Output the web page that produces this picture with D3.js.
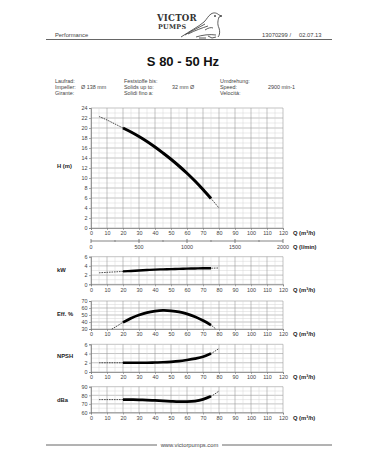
<!DOCTYPE html>
<html><head><meta charset="utf-8">
<script src="https://cdn.jsdelivr.net/npm/d3@7"></script>
<style>
html,body{margin:0;padding:0;background:#fff;}
svg{display:block;font-family:"Liberation Sans",Arial,sans-serif;}
</style></head>
<body>
<script>
// ---------- data ----------
const qValues = [5,10,15,20,25,30,35,40,45,50,55,60,65,70,75,80];
const headValues = [22.3,21.6,20.8,20.0,19.2,18.3,17.3,16.2,15.0,13.75,12.4,10.95,9.4,7.7,5.9,4.0];
const powerValues = [2.5,2.6,2.7,2.8,2.9,3.0,3.1,3.2,3.25,3.3,3.35,3.4,3.45,3.5,3.5,3.55];
const effQ = [13,15,20,25,30,35,40,45,50,55,60,65,70,75,78];
const effValues = [30,32.5,39.5,45.5,50,53.5,55.5,56.5,56,54.5,51.5,47.5,42,35.5,30];
const npshValues = [2.0,2.0,2.0,2.0,2.0,2.0,2.0,2.05,2.1,2.2,2.35,2.6,2.9,3.3,4.0,5.1];
const dbaValues = [75,75,75,75,74.9,74.7,74.4,74,73.5,73,72.6,72.6,73.3,75.3,78.8,85];
const qTicks = [0,10,20,30,40,50,60,70,80,90,100,110,120];
const lminTicks = [0,500,1000,1500,2000];
const hTicks = [0,2,4,6,8,10,12,14,16,18,20,22,24];
const kwTicks = [0,2,4,6];
const effTicks = [30,40,50,60,70];
const npshTicks = [0,2,4,6];
const dbaTicks = [60,70,80,90];
const thickRange = [20,75];

const W = 378, H = 472;
const svg = d3.select("body").append("svg").attr("width", W).attr("height", H);
const txt = "#444";

// ---------- header ----------
svg.append("text").attr("x",55).attr("y",37).attr("font-size",5.8).attr("fill",txt).text("Performance");
svg.append("text").attr("x",262).attr("y",37).attr("font-size",5.8).attr("fill",txt).text("13070299 /");
svg.append("text").attr("x",299).attr("y",37).attr("font-size",5.8).attr("fill",txt).text("02.07.13");
svg.append("line").attr("x1",46).attr("x2",332).attr("y1",39.5).attr("y2",39.5).attr("stroke","#555").attr("stroke-width",0.9);

// logo
svg.append("text").attr("x",157).attr("y",21).attr("font-size",8.6).attr("font-weight","bold")
  .attr("font-family","'DejaVu Serif',serif").attr("fill","#333").attr("letter-spacing",0.2).text("VICTOR");
svg.append("text").attr("x",158).attr("y",29).attr("font-size",6.4).attr("font-weight","bold")
  .attr("font-family","'DejaVu Serif',serif").attr("fill","#333").attr("letter-spacing",0.3).text("PUMPS");
const bird = svg.append("g").attr("fill","none").attr("stroke","#333").attr("stroke-width",0.8);
bird.append("path").attr("d","M181,37 C190,31 198,27 204,22 C207,19 208,16 211,14 C214,12 217,13 219,15 L222,16 L219,17 C218,20 217,24 219,28 C220,31 220,35 218,37");
bird.append("path").attr("d","M185,35 C193,30 200,27 205,24 M188,34 C196,30 202,28 208,26");
bird.append("path").attr("d","M196,37 C202,35 210,34 216,35 M199,38 L206,38 M208,36 L212,38 L216,37");
bird.append("path").attr("d","M205,30 C208,28 211,27 213,28");
bird.append("circle").attr("cx",215).attr("cy",16).attr("r",0.6).attr("fill","#333");

// title
svg.append("text").attr("x",183).attr("y",66).attr("text-anchor","middle").attr("font-size",13)
  .attr("font-weight","bold").attr("fill","#111").text("S 80 - 50 Hz");

// info block
const info = [
  [55,81,"Laufrad:"],[55,87.3,"Impeller:"],[55,93.6,"Girante:"],
  [81,87.3,"Ø 138 mm"],
  [124,81,"Feststoffe bis:"],[124,87.3,"Solids up to:"],[124,93.6,"Solidi fino a:"],
  [172,87.3,"32 mm Ø"],
  [220,81,"Umdrehung:"],[220,87.3,"Speed:"],[220,93.6,"Velocità:"],
  [268,87.3,"2900 min-1"]
];
info.forEach(d=>svg.append("text").attr("x",d[0]).attr("y",d[1]+1.5).attr("font-size",5.4).attr("fill",txt).text(d[2]));

// ---------- shared x scale ----------
const x = d3.scaleLinear().domain([0,120]).range([91,283]);
const minorX = d3.range(0,121,5);

function panel(opts){
  const y = d3.scaleLinear().domain(opts.domain).range([opts.bottom, opts.top]);
  const g = svg.append("g");
  opts.gridY.forEach(v=>{
    const major = opts.ticks.includes(v);
    g.append("line").attr("x1",x(0)).attr("x2",x(120)).attr("y1",y(v)).attr("y2",y(v))
      .attr("stroke", major ? "#9a9a9a" : "#d4d4d4").attr("stroke-width", major?0.6:0.5);
  });
  minorX.forEach(v=>{
    const major = v%10===0;
    g.append("line").attr("x1",x(v)).attr("x2",x(v)).attr("y1",y(opts.domain[0])).attr("y2",y(opts.domain[1]))
      .attr("stroke", major ? "#9a9a9a" : "#d4d4d4").attr("stroke-width", major?0.6:0.5);
  });
  const yAx = g.append("g").attr("transform",`translate(${x(0)},0)`)
    .call(d3.axisLeft(y).tickValues(opts.ticks).tickSize(2).tickPadding(1.5).tickFormat(d3.format("d")));
  const xAx = g.append("g").attr("transform",`translate(0,${opts.bottom})`)
    .call(d3.axisBottom(x).tickValues(qTicks).tickSize(2).tickPadding(1.5).tickFormat(d3.format("d")));
  [yAx,xAx].forEach(a=>{
    a.select(".domain").attr("stroke","#777").attr("stroke-width",0.7);
    a.selectAll(".tick line").attr("stroke","#777").attr("stroke-width",0.6);
    a.selectAll("text").attr("font-size",5.4).attr("fill",txt).attr("font-family","'Liberation Sans',Arial,sans-serif");
  });
  g.append("text").attr("x",57).attr("y",opts.labelY).attr("font-size",5.8).attr("font-weight","bold")
    .attr("fill","#222").text(opts.label);
  g.append("text").attr("x",293).attr("y",opts.bottom+7.2).attr("font-size",5.8).attr("font-weight","bold")
    .attr("fill","#222").text("Q (m³/h)");
  const pts = opts.q.map((q,i)=>[q,opts.values[i]]);
  const line = d3.line().x(d=>x(d[0])).y(d=>y(d[1])).curve(d3.curveCatmullRom.alpha(0.5));
  const thick = pts.filter(d=>d[0]>=thickRange[0] && d[0]<=thickRange[1]);
  g.append("path").attr("d",line(pts)).attr("fill","none").attr("stroke","#222")
    .attr("stroke-width",0.8).attr("stroke-dasharray","1.6,0.9");
  g.append("path").attr("d",line(thick)).attr("fill","none").attr("stroke","#000")
    .attr("stroke-width",opts.thick||2.8).attr("stroke-linecap","butt").attr("stroke-linejoin","round");
  return y;
}

panel({domain:[0,24], top:108, bottom:228, ticks:hTicks, gridY:d3.range(0,25,1),
  label:"H (m)", labelY:168, q:qValues, values:headValues, thick:3});
panel({domain:[0,6], top:256.7, bottom:284.3, ticks:kwTicks, gridY:d3.range(0,7,1),
  label:"kW", labelY:272, q:qValues, values:powerValues, thick:2.4});
panel({domain:[30,70], top:301, bottom:329, ticks:effTicks, gridY:d3.range(30,71,5),
  label:"Eff. %", labelY:316, q:effQ, values:effValues, thick:2.8});
panel({domain:[0,6], top:344.3, bottom:372, ticks:npshTicks, gridY:d3.range(0,7,1),
  label:"NPSH", labelY:358, q:qValues, values:npshValues, thick:2.6});
panel({domain:[60,90], top:386.7, bottom:412.5, ticks:dbaTicks, gridY:d3.range(60,91,5),
  label:"dBa", labelY:402, q:qValues, values:dbaValues, thick:2.8});

// secondary l/min axis
const xl = d3.scaleLinear().domain([0,2000]).range([x(0),x(120)]);
const sec = svg.append("g");
sec.append("line").attr("x1",xl(0)).attr("x2",xl(2000)).attr("y1",241).attr("y2",241).attr("stroke","#666").attr("stroke-width",0.8);
lminTicks.forEach(v=>{
  sec.append("line").attr("x1",xl(v)).attr("x2",xl(v)).attr("y1",239).attr("y2",243).attr("stroke","#666").attr("stroke-width",0.8);
  sec.append("text").attr("x",xl(v)).attr("y",248.5).attr("text-anchor","middle").attr("font-size",5.4).attr("fill",txt).text(v);
});
[250,750,1250,1750].forEach(v=>{
  sec.append("line").attr("x1",xl(v)).attr("x2",xl(v)).attr("y1",240.2).attr("y2",241.8).attr("stroke","#666").attr("stroke-width",0.8);
});
svg.append("text").attr("x",293).attr("y",248.5).attr("font-size",5.8).attr("font-weight","bold").attr("fill","#222").text("Q (l/min)");

// footer
svg.append("line").attr("x1",46).attr("x2",157).attr("y1",445).attr("y2",445).attr("stroke","#555").attr("stroke-width",0.9);
svg.append("line").attr("x1",222).attr("x2",332).attr("y1",445).attr("y2",445).attr("stroke","#555").attr("stroke-width",0.9);
svg.append("text").attr("x",189.5).attr("y",447).attr("text-anchor","middle").attr("font-size",5.8).attr("fill",txt).text("www.victorpumps.com");
</script>
</body></html>
